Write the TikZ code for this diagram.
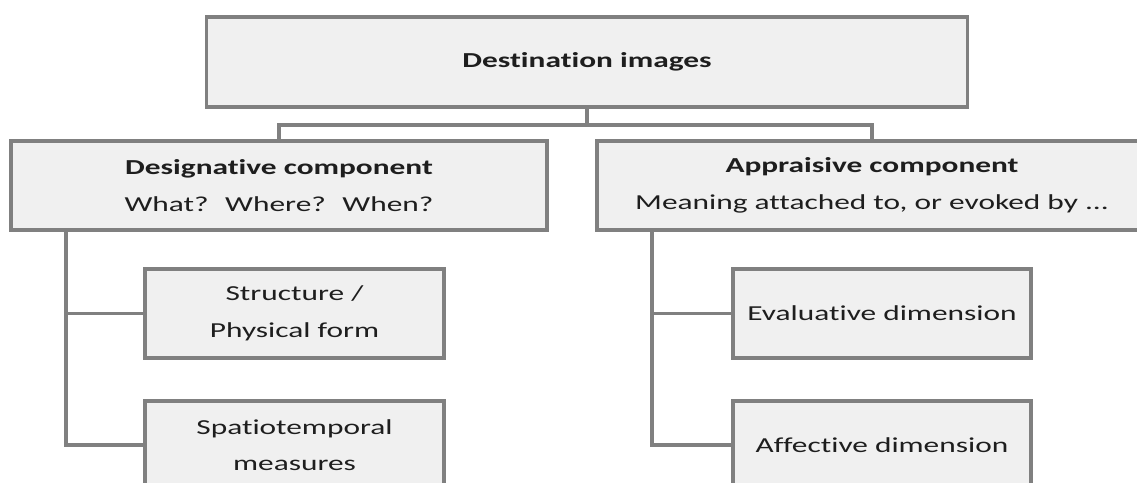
\documentclass[tikz,border=0pt]{standalone}
\usepackage{fontspec}
\setmainfont{Carlito}[FakeStretch=1.47, Ligatures=NoCommon]
\usetikzlibrary{positioning,calc}
\definecolor{linegray}{HTML}{808080}
\definecolor{boxgray}{HTML}{F0F0F0}
\definecolor{inkgray}{HTML}{1E1E1E}

\begin{document}
\begin{tikzpicture}[
  x=0.75pt, y=-0.75pt,
  node distance=29.25pt,
  box/.style={draw=linegray, line width=2.8pt, fill=boxgray, align=center, inner sep=0pt,
    minimum height=66.75pt, text=inkgray, font=\fontsize{16pt}{27.5pt}\selectfont},
  sub/.style={box, minimum width=224pt},
  ln/.style={draw=linegray, line width=2.8pt}]

\useasboundingbox (0,0) rectangle (1137,482);
\clip (0,0) rectangle (1137,482);

\node[box, minimum width=570.75pt, minimum height=67.5pt] (top) at (587,62) {\textbf{Destination images}};

\node[box, minimum width=402pt] (des) at (279,185.5) {\textbf{Designative component}\\What?~ Where?~ When?};
\node[box, minimum width=412.5pt] (app) at (872,185.5) {\textbf{Appraisive component}\\Meaning attached to, or evoked by ...};

\node[sub] (str) at (294.5,313.5) {Structure /\\Physical form};
\node[sub, below=of str] (spa) {Spatiotemporal\\measures};
\node[sub] (eva) at (882,313.5) {Evaluative dimension};
\node[sub, below=of eva] (aff) {Affective dimension};

% tree lines
\draw[ln] (top.south) -- ++(0,16) coordinate (hub);
\draw[ln] (des.north) |- (hub) -| (app.north);

\coordinate (lsp) at (66,230);
\coordinate (rsp) at (652,230);
\draw[ln] (lsp) |- (spa.west);
\draw[ln] (lsp |- str.west) -- (str.west);
\draw[ln] (rsp) |- (aff.west);
\draw[ln] (rsp |- eva.west) -- (eva.west);
\end{tikzpicture}
\end{document}
